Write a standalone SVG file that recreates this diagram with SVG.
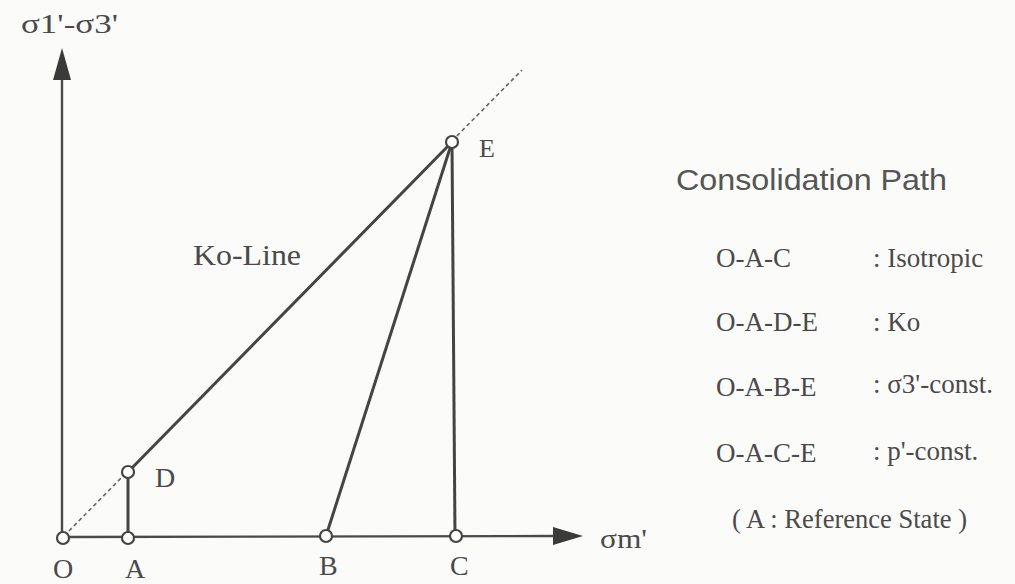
<svg xmlns="http://www.w3.org/2000/svg" width="1015" height="584" viewBox="0 0 1015 584">
<defs>
<style>
.ax{stroke:#4a4a4a;stroke-width:2.4;fill:none}
.ln{stroke:#444;stroke-width:3;fill:none}
.dot{stroke:#666;stroke-width:1.6;stroke-dasharray:4 3;fill:none}
.pt{fill:#fff;stroke:#444;stroke-width:2.2}
.t{font-family:"Liberation Serif",serif;fill:#4a4a4a}
.s{font-family:"Liberation Sans",sans-serif;fill:#555}
</style>
</defs>
<rect width="1015" height="584" fill="#fbfbfa"/>
<g id="connectors">
<line class="ax" x1="62" y1="538" x2="62" y2="70"/>
<path d="M53,80 L62,48 L71,80 z" fill="#3a3a3a"/>
<line class="ax" x1="62" y1="537" x2="556" y2="536"/>
<path d="M553,527 L583,536 L553,545 z" fill="#3a3a3a"/>
<line class="dot" x1="64" y1="536" x2="128" y2="471"/>
<line class="dot" x1="452" y1="141" x2="522" y2="70"/>
<line class="ln" x1="128" y1="537" x2="128" y2="472"/>
<line class="ln" x1="128" y1="472" x2="452" y2="142"/>
<line class="ln" x1="326" y1="536" x2="452" y2="142"/>
<line class="ln" x1="455" y1="536" x2="452" y2="142"/>
</g>
<g id="node-O"><circle class="pt" cx="63" cy="538" r="6"/><text class="t" x="53" y="578" font-size="28">O</text></g>
<g id="node-A"><circle class="pt" cx="128" cy="538" r="6"/><text class="t" x="125" y="578" font-size="28">A</text></g>
<g id="node-D"><circle class="pt" cx="128" cy="472" r="6"/><text class="t" x="155" y="487" font-size="28">D</text></g>
<g id="node-B"><circle class="pt" cx="326" cy="536" r="6"/><text class="t" x="319" y="575" font-size="28">B</text></g>
<g id="node-C"><circle class="pt" cx="456" cy="536" r="6"/><text class="t" x="450" y="575" font-size="28">C</text></g>
<g id="node-E"><circle class="pt" cx="452" cy="142" r="6"/><text class="t" x="479" y="157" font-size="26">E</text></g>
<g id="labels">
<text class="t" x="21" y="33" font-size="28" textLength="97" lengthAdjust="spacingAndGlyphs">σ1'-σ3'</text>
<text class="t" x="600" y="548" font-size="28" textLength="47" lengthAdjust="spacingAndGlyphs">σm'</text>
<text class="t" x="193" y="265" font-size="30" textLength="108" lengthAdjust="spacingAndGlyphs">Ko-Line</text>
</g>
<g id="legend">
<text class="s" x="676" y="190" font-size="30" textLength="271" lengthAdjust="spacingAndGlyphs">Consolidation Path</text>
<text class="t" x="716" y="267" font-size="27">O-A-C</text>
<text class="t" x="873" y="267" font-size="27">: Isotropic</text>
<text class="t" x="716" y="331" font-size="27">O-A-D-E</text>
<text class="t" x="873" y="331" font-size="27">: Ko</text>
<text class="t" x="716" y="396" font-size="27">O-A-B-E</text>
<text class="t" x="873" y="393" font-size="27">: σ3'-const.</text>
<text class="t" x="716" y="462" font-size="27">O-A-C-E</text>
<text class="t" x="873" y="460" font-size="27">: p'-const.</text>
<text class="t" x="732" y="528" font-size="27" textLength="235" lengthAdjust="spacingAndGlyphs">( A : Reference State )</text>
</g>
</svg>
